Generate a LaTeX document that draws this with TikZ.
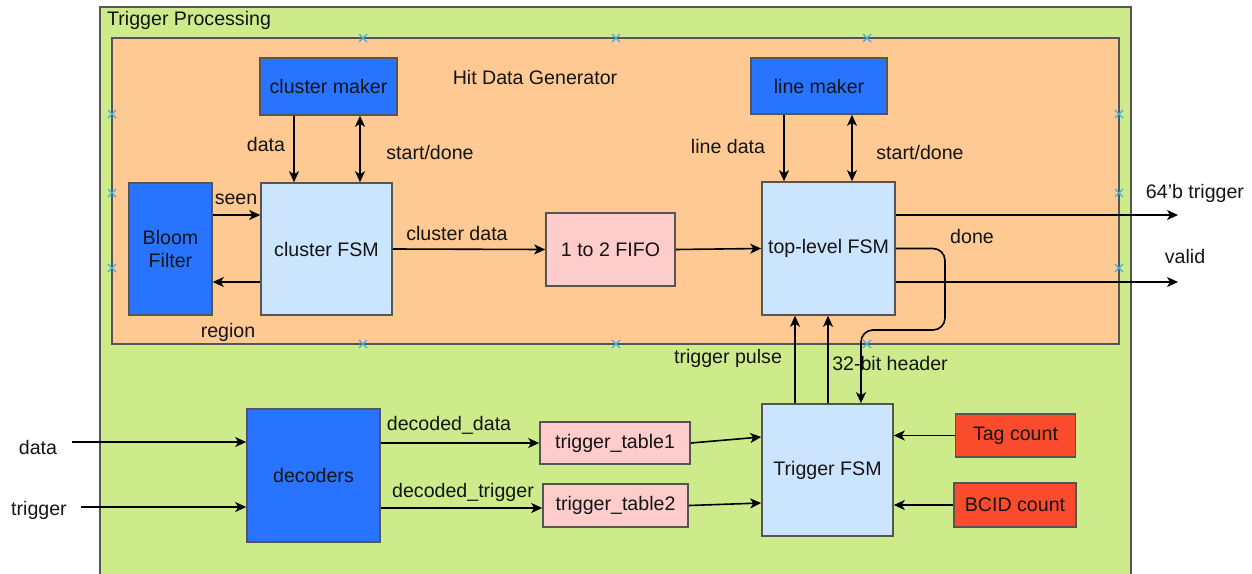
\documentclass[tikz,border=0pt]{standalone}
\usepackage{fontspec}
\setmainfont{Liberation Sans}
\usetikzlibrary{arrows.meta,calc}
\definecolor{gfill}{HTML}{CDEB8B}
\definecolor{ofill}{HTML}{FFC994}
\definecolor{bdark}{HTML}{2873FF}
\definecolor{blight}{HTML}{CCE5FF}
\definecolor{pinkf}{HTML}{FFCCCC}
\definecolor{redf}{HTML}{FA4B2D}
\definecolor{edge}{HTML}{555555}
\definecolor{xblue}{HTML}{3BAEE6}
\definecolor{txt}{HTML}{141414}
\begin{document}
\begin{tikzpicture}[x=1pt,y=-1pt,
  font=\fontsize{19.6}{23}\selectfont, text=txt,
  box/.style={draw=edge, line width=1.6pt, inner sep=0pt, align=center},
  darkbox/.style={box, fill=bdark},
  lightbox/.style={box, fill=blight},
  pinkbox/.style={box, fill=pinkf},
  redbox/.style={box, fill=redf},
  arr/.style={-{Stealth[length=11pt,width=10pt,inset=3pt]}, line width=1.6pt, draw=black},
  darr/.style={{Stealth[length=11pt,width=10pt,inset=3pt]}-{Stealth[length=11pt,width=10pt,inset=3pt]}, line width=1.6pt, draw=black},
  lbl/.style={inner sep=0pt},
  xmk/.style={draw=xblue, line width=1.3pt}
]
\useasboundingbox (0,0) rectangle (1252,573);
\begin{scope}
\clip (0,0) rectangle (1252,573);
% outer green region
\fill[gfill] (100,7) rectangle (1131,580);
\draw[edge, line width=1.6pt] (100,580) -- (100,7) -- (1131,7) -- (1131,580);
\node[lbl, anchor=west] (tp) at (107,20) {Trigger Processing};
% orange region
\draw[edge, line width=1.6pt, fill=ofill] (112,38) rectangle (1119,344);
\node[lbl] (hdg) at (535,77) {Hit Data Generator};
\end{scope}

% connection markers
\foreach \p in {(363,38),(616,38),(867,38),(363,344),(616,344),(867,344),
                (112,114),(112,193),(112,268),(1119,114),(1119,193),(1119,268)}
  \draw[xmk] \p ++(-4,-4) -- ++(8,8) ++(-8,0) -- ++(8,-8);

% boxes
\node[darkbox, minimum width=137pt, minimum height=57pt] (cm) at (328.5,86.5) {cluster maker};
\node[darkbox, minimum width=136pt, minimum height=56pt] (lm) at (819,86) {line maker};
\node[lightbox, minimum width=131pt, minimum height=132pt] (cfsm) at (326.5,249) {cluster FSM};
\node[darkbox, minimum width=83pt, minimum height=132pt] (bloom) at (170.5,249) {Bloom\\Filter};
\node[pinkbox, minimum width=129pt, minimum height=73pt] (fifo) at (610.5,249.5) {1 to 2 FIFO};
\node[lightbox, minimum width=133pt, minimum height=133pt] (top) at (828.5,248.5) {top-level FSM};
\node[darkbox, minimum width=133pt, minimum height=133pt] (dec) at (313.5,475.5) {decoders};
\node[pinkbox, minimum width=150pt, minimum height=42pt] (tt1) at (615,443) {trigger\_table1};
\node[pinkbox, minimum width=145pt, minimum height=43pt] (tt2) at (615.5,505.5) {trigger\_table2};
\node[lightbox, minimum width=131pt, minimum height=132pt] (tfsm) at (827.5,470) {Trigger FSM};
\node[redbox, minimum width=120pt, minimum height=43pt] (tag) at (1015.5,435.5) {Tag count};
\node[redbox, minimum width=122pt, minimum height=44pt] (bcid) at (1015,505) {BCID count};

% free ends
\coordinate (din) at (72,442);
\coordinate (tin) at (81,507);
\coordinate (o64) at (1178,215);
\coordinate (oval) at (1178,282);

% labels
\node[lbl] at (266,144) {data};
\node[lbl] at (430,152) {start/done};
\node[lbl] at (236,199) {seen};
\node[lbl] at (228,332) {region};
\node[lbl] at (457,233) {cluster data};
\node[lbl] at (728,146) {line data};
\node[lbl] at (920,152) {start/done};
\node[lbl] at (1195,193) {64'b trigger};
\node[lbl] at (972,236) {done};
\node[lbl] at (1185,256) {valid};
\node[lbl] at (728,358) {trigger pulse};
\node[lbl] at (890,363) {32-bit header};
\node[lbl] at (449,425) {decoded\_data};
\node[lbl] at (463,492) {decoded\_trigger};
\node[lbl] at (38,447) {data};
\node[lbl] at (39,510) {trigger};

% connectors: hit data generator
\draw[arr] (cm.south -| 294,0) -- (cfsm.north -| 294,0);
\draw[darr] (cfsm.north -| 360,0) -- (cm.south -| 360,0);
\draw[arr] (lm.south -| 784,0) -- (top.north -| 784,0);
\draw[darr] (top.north -| 852,0) -- (lm.south -| 852,0);
\draw[arr] ($(bloom.east)+(0,-34)$) -- ($(cfsm.west)+(0,-34)$);
\draw[arr] ($(cfsm.west)+(0,33)$) -- ($(bloom.east)+(0,33)$);
\draw[arr] (cfsm.east) -- (fifo.west);
\draw[arr] (fifo.east) -- (top.west);
\draw[arr] (top.east |- o64) -- (o64);
\draw[arr] (top.east |- oval) -- (oval);
\draw[arr, rounded corners=12pt] (top.east) -- (945,248.5) -- (945,330) -- (861,330) -- (tfsm.north -| 861,0);
\draw[arr] (tfsm.north -| 795,0) -- (top.south -| 795,0);
\draw[arr] (tfsm.north -| 828,0) -- (top.south -| 828,0);

% connectors: lower part
\draw[arr] (din) -- (dec.west |- din);
\draw[arr] (tin) -- (dec.west |- tin);
\draw[arr] (dec.east |- tt1.west) -- (tt1.west);
\draw[arr] (dec.east |- 0,508) -- (tt2.west |- 0,508);
\draw[arr] (tt1.east) -- ($(tfsm.west)+(0,-33)$);
\draw[arr] (tt2.east) -- ($(tfsm.west)+(0,33)$);
\draw[arr] (tag.west) -- (tfsm.east |- tag.west);
\draw[arr] (bcid.west) -- (tfsm.east |- bcid.west);
\end{tikzpicture}
\end{document}
